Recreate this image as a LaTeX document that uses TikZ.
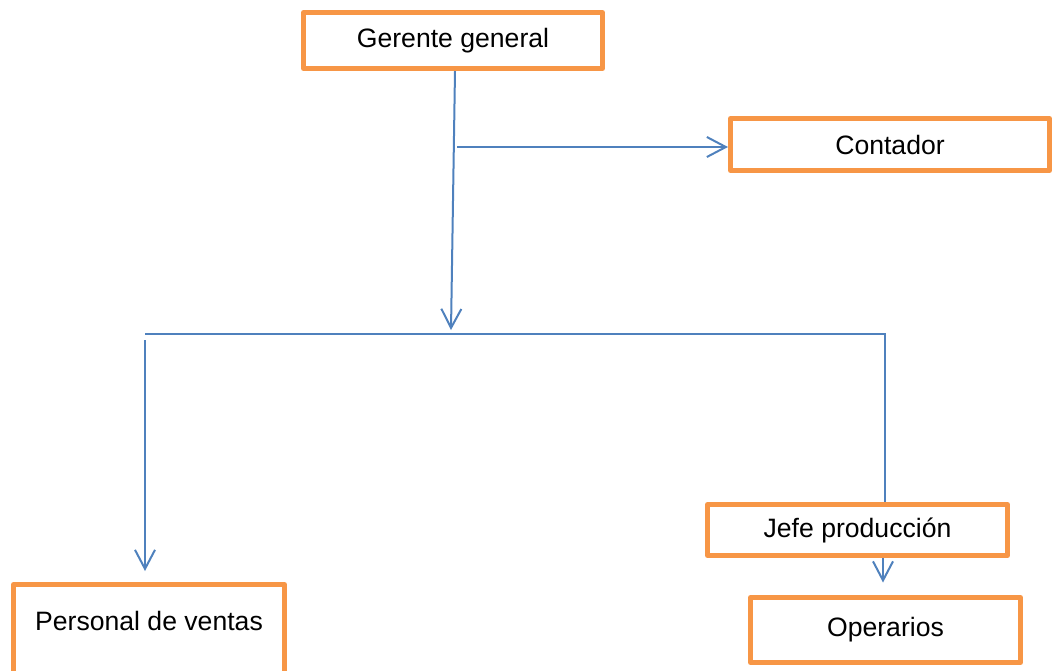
\documentclass[tikz,border=0pt]{standalone}
\usepackage{fontspec}
\setmainfont{Liberation Sans}
\usetikzlibrary{arrows.meta,calc}
\definecolor{boxorange}{HTML}{F79646}
\definecolor{linkblue}{HTML}{4F81BD}
\begin{document}
\begin{tikzpicture}[x=0.5pt,y=-0.5pt,
  orgbox/.style={draw=boxorange,line width=2.5pt,line join=round,fill=white,rectangle,
    inner sep=0pt,font=\fontsize{13.3}{16}\selectfont},
  link/.style={draw=linkblue,line width=1pt},
  linkarrow/.style={link,-{Straight Barb[length=9.5pt,width=10pt,line width=1pt]}}]
\useasboundingbox (0,0) rectangle (1054,670);

% boxes
\node[orgbox,minimum width=149.5pt,minimum height=28pt] (gerente) at (453,40.5) {Gerente general};
\node[orgbox,minimum width=159.5pt,minimum height=26pt] (contador) at (890,144.5) {Contador};
\node[orgbox,minimum width=150pt,minimum height=25.5pt] (jefe) at (857.5,530) {Jefe producción};
\node[orgbox,minimum width=135pt,minimum height=32.5pt] (operarios) at (885.5,630) {Operarios};
\node[orgbox,minimum width=135.5pt,anchor=north,text height=23pt,text depth=50pt] (ventas) at (149,582) {Personal de ventas};

% junction points
\coordinate (hub) at (451,330);
\coordinate (cstart) at (457,147);
\coordinate (busL) at (145,334);
\coordinate (busR) at (885,334);
\coordinate (lstart) at (145,340);
\coordinate (jo) at (883,0);

% connectors
\draw[linkarrow] ($(gerente.south)+(2,0)$) -- (hub);
\draw[linkarrow] (cstart) -- (cstart -| contador.west);
\draw[link] (busL) -- (busR) -- (busR |- jefe.north);
\draw[linkarrow,shorten >=5.5pt] (lstart) -- (lstart |- ventas.north);
\draw[linkarrow,shorten >=6.25pt] (jefe.south -| jo) -- (operarios.north -| jo);
\end{tikzpicture}
\end{document}
